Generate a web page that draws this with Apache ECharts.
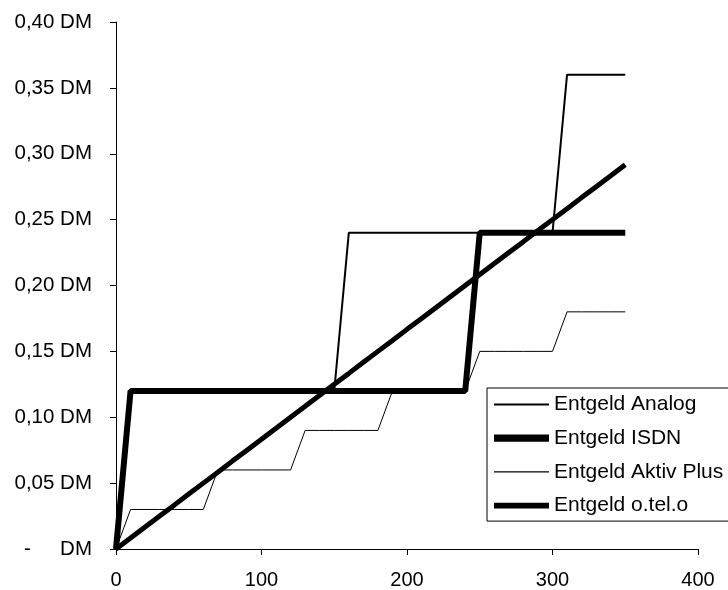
<!DOCTYPE html>
<html><head><meta charset="utf-8">
<script src="https://cdn.jsdelivr.net/npm/echarts@6/dist/echarts.min.js"></script>
<style>html,body{margin:0;padding:0;background:#fff}#c{width:728px;height:590px}</style>
</head><body><div id="c"></div>
<script>
const seconds = [0,10,20,30,40,50,60,70,80,90,100,110,120,130,140,150,160,170,180,190,200,210,220,230,240,250,260,270,280,290,300,310,320,330,340,350];
const analog = [0,0.12,0.12,0.12,0.12,0.12,0.12,0.12,0.12,0.12,0.12,0.12,0.12,0.12,0.12,0.12,0.24,0.24,0.24,0.24,0.24,0.24,0.24,0.24,0.24,0.24,0.24,0.24,0.24,0.24,0.24,0.36,0.36,0.36,0.36,0.36];
const isdn = [0,0.12,0.12,0.12,0.12,0.12,0.12,0.12,0.12,0.12,0.12,0.12,0.12,0.12,0.12,0.12,0.12,0.12,0.12,0.12,0.12,0.12,0.12,0.12,0.12,0.24,0.24,0.24,0.24,0.24,0.24,0.24,0.24,0.24,0.24,0.24];
const aktivPlus = [0,0.03,0.03,0.03,0.03,0.03,0.03,0.06,0.06,0.06,0.06,0.06,0.06,0.09,0.09,0.09,0.09,0.09,0.09,0.12,0.12,0.12,0.12,0.12,0.12,0.15,0.15,0.15,0.15,0.15,0.15,0.18,0.18,0.18,0.18,0.18];
const otelo = [0,0.0083,0.0167,0.025,0.0333,0.0417,0.05,0.0583,0.0667,0.075,0.0833,0.0917,0.1,0.1083,0.1167,0.125,0.1333,0.1417,0.15,0.1583,0.1667,0.175,0.1833,0.1917,0.2,0.2083,0.2167,0.225,0.2333,0.2417,0.25,0.2583,0.2667,0.275,0.2833,0.2917];
const seriesNames = ['Entgeld Analog','Entgeld ISDN','Entgeld Aktiv Plus','Entgeld o.tel.o'];
const seriesValues = [analog, isdn, aktivPlus, otelo];
const widths = [2, 6, 1, 5];
const legendIcons = ['path://M0,0H55V2H0Z','path://M0,0H60V8H0Z','path://M0,0H50V1H0Z','path://M0,0H57V6H0Z'];

const chart = echarts.init(document.getElementById('c'), null, {renderer:'canvas'});
const font = 'Arial, "Liberation Sans", sans-serif';
chart.setOption({
  animation:false,
  backgroundColor:'#fff',
  grid:{left:116,right:30,top:22,bottom:41,containLabel:false},
  xAxis:{type:'value',min:0,max:400,interval:100,
    axisLine:{lineStyle:{color:'#000',width:1}},
    axisTick:{show:true,length:6,lineStyle:{color:'#000'}},
    axisLabel:{color:'#000',fontSize:20,fontFamily:font,margin:21},
    splitLine:{show:false}},
  yAxis:{type:'value',min:0,max:0.4,interval:0.05,
    axisLine:{show:true,lineStyle:{color:'#000',width:1}},
    axisTick:{show:true,length:6,lineStyle:{color:'#000'}},
    splitLine:{show:false},
    axisLabel:{color:'#000',fontSize:20.5,fontFamily:font,margin:24,
      formatter:function(v){ if(Math.abs(v)<1e-9) return '{d|-}{u|DM}'; return v.toFixed(2).replace('.',',')+' DM'; },
      rich:{d:{width:36,align:'left',fontSize:20.5,fontFamily:font,color:'#000'},u:{fontSize:20.5,fontFamily:font,color:'#000'}}}},
  legend:{orient:'vertical',left:487,top:388,padding:[6,8,5,7],
    itemWidth:55,itemHeight:21,itemGap:12.7,
    backgroundColor:'#fff',borderColor:'#000',borderWidth:1,borderRadius:0,
    itemStyle:{color:'#000',borderWidth:0},
    textStyle:{color:'#000',fontSize:21,fontFamily:font},
    data:seriesNames.map((n,i)=>({name:n,icon:legendIcons[i]}))},
  series:seriesNames.map((n,i)=>({name:n,type:'line',symbol:'none',showSymbol:false,
    data:seconds.map((s,j)=>[s,seriesValues[i][j]]),
    lineStyle:{color:'#000',width:widths[i]},itemStyle:{color:'#000'},
    clip:false}))
});
</script></body></html>
